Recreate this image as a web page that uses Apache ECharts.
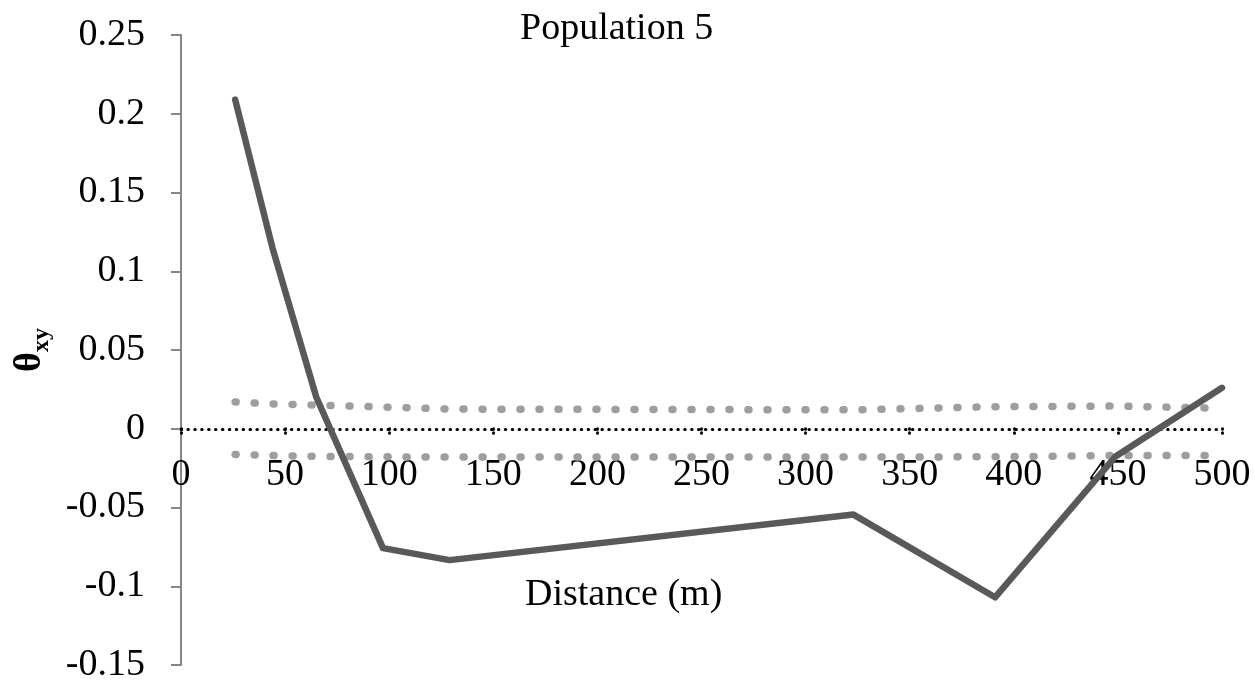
<!DOCTYPE html>
<html>
<head>
<meta charset="utf-8">
<script src="https://cdn.jsdelivr.net/npm/echarts@6/dist/echarts.min.js"></script>
<style>
html,body{margin:0;padding:0;background:#fff;}
#chart{width:1255px;height:681px;}
</style>
</head>
<body>
<div id="chart"></div>
<script>
// Data
var distance = [26, 44, 65, 97, 129, 323, 391, 449, 500];
var theta    = [0.209, 0.1145, 0.020, -0.0758, -0.0834, -0.0545, -0.107, -0.0174, 0.026];
var upperCI  = [0.017, 0.0158, 0.015, 0.0138, 0.0125, 0.012, 0.014, 0.0144, 0.013];
var lowerCI  = [-0.0163, -0.017, -0.0175, -0.0178, -0.018, -0.018, -0.0178, -0.017, -0.017];
var titleText = 'Population 5';
var xTitle = 'Distance (m)';
var yMin = -0.15, yMax = 0.25;

function pairs(xs, ys) { return xs.map(function (x, i) { return [x, ys[i]]; }); }

var FONT = 'Liberation Serif';
var GRID = {left: 181, right: 33, top: 35, bottom: 16};
var plotH = 681 - GRID.top - GRID.bottom;
// move the x axis (line, ticks, labels) up to the value 0
var zeroOffset = -plotH * (0 - yMin) / (yMax - yMin);

var chart = echarts.init(document.getElementById('chart'), null, {renderer: 'canvas'});
chart.setOption({
  animation: false,
  backgroundColor: '#fff',
  title: [
    {text: titleText, left: 520, top: 10, padding: 0,
     textStyle: {fontFamily: FONT, fontSize: 38, fontWeight: 'normal', color: '#000', lineHeight: 38}},
    {text: xTitle, left: 525, top: 576, padding: 0,
     textStyle: {fontFamily: FONT, fontSize: 38, fontWeight: 'normal', color: '#000', lineHeight: 38}}
  ],
  grid: {left: GRID.left, right: GRID.right, top: GRID.top, bottom: GRID.bottom,
         containLabel: false, outerBoundsMode: 'none'},
  xAxis: {
    type: 'value', min: 0, max: 500, interval: 50, position: 'bottom', offset: zeroOffset,
    axisLine: {onZero: false, lineStyle: {color: '#000', width: 3, type: [0.5, 6.4], cap: 'round'}},
    axisTick: {show: true, length: 7, lineStyle: {color: '#000', width: 3, type: [0.5, 3.5], cap: 'round'}},
    axisLabel: {margin: 27, fontFamily: FONT, fontSize: 38, color: '#000', showMinLabel: true, showMaxLabel: true},
    splitLine: {show: false}
  },
  yAxis: {
    type: 'value', min: yMin, max: yMax, interval: 0.05,
    name: '{t|θ}{s|xy}', nameLocation: 'middle', nameRotate: 90, nameGap: 127,
    nameTextStyle: {
      rich: {
        t: {fontFamily: FONT, fontSize: 38, fontWeight: 'bold', color: '#000', lineHeight: 48},
        s: {fontFamily: FONT, fontSize: 24, fontWeight: 'bold', color: '#000', lineHeight: 24, verticalAlign: 'bottom'}
      }
    },
    axisLine: {show: true, onZero: false, lineStyle: {color: '#868686', width: 2}},
    axisTick: {show: true, inside: false, length: 10, lineStyle: {color: '#868686', width: 2}},
    axisLabel: {margin: 36, fontFamily: FONT, fontSize: 38, color: '#000'},
    splitLine: {show: false}
  },
  series: [
    {type: 'line', data: pairs(distance, upperCI), symbol: 'none', z: 2,
     lineStyle: {color: '#9e9e9e', width: 7.5, type: [1, 18], cap: 'round'}},
    {type: 'line', data: pairs(distance, lowerCI), symbol: 'none', z: 2,
     lineStyle: {color: '#9e9e9e', width: 7.5, type: [1, 18], cap: 'round'}},
    {type: 'line', data: pairs(distance, theta), symbol: 'none', z: 3,
     lineStyle: {color: '#595959', width: 6.5, cap: 'round', join: 'round'}}
  ]
});
</script>
</body>
</html>
